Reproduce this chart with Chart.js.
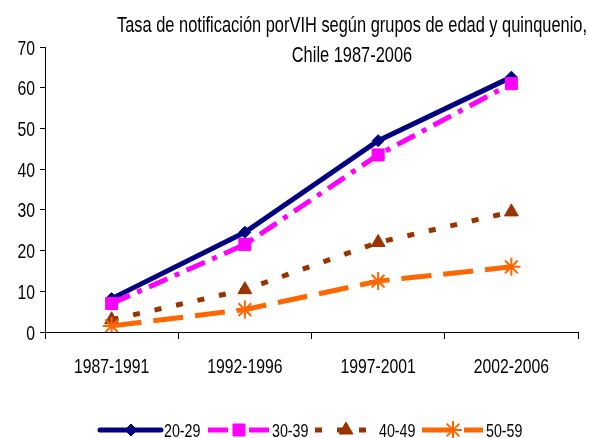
<!DOCTYPE html>
<html><head><meta charset="utf-8">
<script src="https://cdn.jsdelivr.net/npm/chart.js@4.4.1/dist/chart.umd.min.js"></script>
<style>html,body{margin:0;padding:0;background:#fff}#wrap{width:589px;height:438px;position:relative}</style>
</head><body><div id="wrap"><canvas id="c" width="589" height="438"></canvas></div>
<script>
const categories = ['1987-1991', '1992-1996', '1997-2001', '2002-2006'];
const seriesNames = ['20-29', '30-39', '40-49', '50-59'];
const s2029 = [8.2, 24.5, 47.0, 62.6];
const s3039 = [7.0, 21.5, 43.5, 61.0];
const s4049 = [3.0, 10.4, 22.0, 29.5];
const s5059 = [1.5, 5.5, 12.5, 16.0];
const yMin = 0, yMax = 70, yStep = 10;
const titleLines = ['Tasa de notificación porVIH según grupos de edad y quinquenio,', 'Chile 1987-2006'];

const FONT = "'Liberation Sans', Arial, sans-serif";

const datasets = [
  {label: seriesNames[0], data: s2029, borderColor: '#000080', backgroundColor: '#000080',
   borderWidth: 5, borderDash: [], pointStyle: 'rectRot', pointRadius: 6, pointBorderWidth: 1, order: 4},
  {label: seriesNames[1], data: s3039, borderColor: '#FF00FF', backgroundColor: '#FF00FF',
   borderWidth: 5, borderDash: [20, 8, 5, 8], pointStyle: 'rect', pointRadius: 8.5, pointBorderWidth: 1, order: 3},
  {label: seriesNames[2], data: s4049, borderColor: '#993300', backgroundColor: '#993300',
   borderWidth: 5, borderDash: [7, 15], pointStyle: 'triangle', pointRadius: 8, pointBorderWidth: 1, order: 2},
  {label: seriesNames[3], data: s5059, borderColor: '#FF6600', backgroundColor: '#FF6600',
   borderWidth: 5, borderDash: [30, 12], pointStyle: 'star', pointRadius: 9, pointBorderWidth: 2, order: 1}
];
datasets.forEach(d => { d.tension = 0; d.fill = false; d.borderCapStyle = 'butt'; d.pointBorderColor = d.borderColor; d.pointBackgroundColor = d.backgroundColor; });

function drawMarker(ctx, style, r, bw, x, y, color) {
  if (Chart.helpers && Chart.helpers.drawPoint) {
    ctx.save();
    ctx.setLineDash([]);
    ctx.fillStyle = color; ctx.strokeStyle = color; ctx.lineWidth = bw;
    Chart.helpers.drawPoint(ctx, {pointStyle: style, radius: r, borderWidth: bw, rotation: 0}, x, y);
    ctx.restore();
  }
}

function drawText(ctx, text, x, y, size, sx, align) {
  ctx.save();
  ctx.fillStyle = '#000';
  ctx.font = size + 'px ' + FONT;
  ctx.translate(x, y);
  ctx.scale(sx, 1);
  ctx.textAlign = align;
  ctx.textBaseline = 'alphabetic';
  ctx.fillText(text, 0, 0);
  ctx.restore();
}

const textPlugin = {
  id: 'textPlugin',
  afterDraw(chart) {
    const ctx = chart.ctx;
    // title
    ctx.save();
    ctx.font = '22px ' + FONT;
    const w = ctx.measureText(titleLines[0]).width;
    ctx.restore();
    const tsx = 470 / w;
    drawText(ctx, titleLines[0], 352, 32, 22, tsx, 'center');
    drawText(ctx, titleLines[1], 352, 62, 22, tsx, 'center');
    // x tick labels
    const xs = chart.scales.x;
    xs.ticks.forEach((t, i) => {
      drawText(ctx, xs.getLabelForValue(t.value), xs.getPixelForTick(i), 373, 21, 0.75, 'center');
    });
    // y tick labels
    const ys = chart.scales.y;
    ys.ticks.forEach((t, i) => {
      drawText(ctx, String(t.label), 35, ys.getPixelForTick(i) + 7.5, 21, 0.75, 'right');
    });
  }
};

const legendPlugin = {
  id: 'customLegend',
  afterDraw(chart) {
    const ctx = chart.ctx;
    const starts = [100, 208, 315, 422];
    const y = 430;
    chart.data.datasets.forEach((ds, i) => {
      const x0 = starts[i];
      ctx.save();
      ctx.strokeStyle = ds.borderColor;
      ctx.lineWidth = ds.borderWidth;
      ctx.lineCap = i === 0 ? 'round' : 'butt';
      ctx.setLineDash(ds.borderDash);
      ctx.beginPath(); ctx.moveTo(x0, y); ctx.lineTo(x0 + 61, y); ctx.stroke();
      ctx.restore();
      drawMarker(ctx, ds.pointStyle, ds.pointRadius, ds.pointBorderWidth, x0 + 31, y, ds.borderColor);
      drawText(ctx, ds.label, x0 + 64, 437, 19, 0.75, 'left');
    });
  }
};

new Chart(document.getElementById('c'), {
  type: 'line',
  data: {labels: categories, datasets: datasets},
  options: {
    responsive: false,
    animation: false,
    layout: {padding: {top: 47, right: 11, left: 0, bottom: 0}},
    plugins: {legend: {display: false}, title: {display: false}, tooltip: {enabled: false}},
    scales: {
      x: {
        offset: true,
        grid: {display: true, drawOnChartArea: false, drawTicks: true, tickLength: 7, color: '#000', offset: true},
        border: {display: true, color: '#000', width: 1},
        ticks: {color: 'rgba(0,0,0,0)', font: {family: FONT, size: 17}, padding: 16, maxRotation: 0},
        afterFit(s) { s.height = 106; }
      },
      y: {
        min: yMin, max: yMax,
        grid: {display: true, drawOnChartArea: false, drawTicks: true, tickLength: 5, color: '#000'},
        border: {display: true, color: '#000', width: 1},
        ticks: {stepSize: yStep, color: 'rgba(0,0,0,0)', font: {family: FONT, size: 18}, padding: 4},
        afterFit(s) { s.width = 45; }
      }
    }
  },
  plugins: [textPlugin, legendPlugin]
});
</script>
</body></html>
